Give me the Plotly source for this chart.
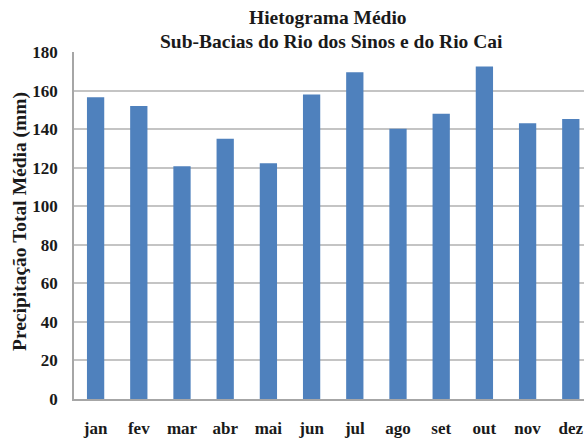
import plotly.graph_objects as go

months = ["jan", "fev", "mar", "abr", "mai", "jun", "jul", "ago", "set", "out", "nov", "dez"]
precip = [156.5, 152.0, 120.7, 135.0, 122.3, 158.0, 169.5, 140.2, 148.0, 172.5, 143.0, 145.2]
y_ticks = [0, 20, 40, 60, 80, 100, 120, 140, 160, 180]

title_line1 = "Hietograma Médio"
title_line2 = "Sub-Bacias do Rio dos Sinos e do Rio Cai"
y_title = "Precipitação Total Média (mm)"

FONT = "Liberation Serif"
W, H = 584, 439
ML, MR, MT, MB = 74, 0, 52, 40
PW = W - ML - MR
PH = H - MT - MB
CAT = 43.2  # px per category

fig = go.Figure(go.Bar(
    x=list(range(len(months))),
    y=precip,
    marker=dict(color="#4f81bd", line=dict(width=0)),
))

fig.update_layout(
    width=W, height=H,
    margin=dict(l=ML, r=MR, t=MT, b=MB),
    plot_bgcolor="white", paper_bgcolor="white",
    bargap=0.6,
    showlegend=False,
    font=dict(family=FONT, color="#1a1a1a"),
)

fig.update_xaxes(
    tickmode="array",
    tickvals=list(range(len(months))),
    ticktext=months,
    range=[-0.5, -0.5 + PW / CAT],
    showgrid=False,
    showline=True, linecolor="#a6a6a6", linewidth=1.5,
    ticks="", ticklabelstandoff=13,
    tickfont=dict(family=FONT, size=17, weight="bold", color="#1a1a1a"),
)
fig.update_yaxes(
    range=[0, 180],
    tickmode="array", tickvals=y_ticks,
    showgrid=True, gridcolor="#c4c4c4", gridwidth=1.5,
    showline=True, linecolor="#a6a6a6", linewidth=1.5,
    zeroline=False,
    ticks="", ticklabelstandoff=11,
    tickfont=dict(family=FONT, size=17, weight="bold", color="#1a1a1a"),
)

def px_x(px):
    return (px - ML) / PW

def px_y(py):
    return (H - MB - py) / PH

fig.add_annotation(text=title_line1, xref="paper", yref="paper",
                   x=px_x(328), y=px_y(17), xanchor="center", yanchor="middle",
                   showarrow=False,
                   font=dict(family=FONT, size=19.5, weight="bold", color="#1a1a1a"))
fig.add_annotation(text=title_line2, xref="paper", yref="paper",
                   x=px_x(331), y=px_y(42), xanchor="center", yanchor="middle",
                   showarrow=False,
                   font=dict(family=FONT, size=19.5, weight="bold", color="#1a1a1a"))
fig.add_annotation(text=y_title, xref="paper", yref="paper",
                   x=px_x(20), y=px_y(222), xanchor="center", yanchor="middle",
                   textangle=-90, showarrow=False,
                   font=dict(family=FONT, size=19.5, weight="bold", color="#1a1a1a"))

fig.write_html(
    "out.html",
    config={"displayModeBar": False},
    post_script="document.body.style.margin='0';document.body.style.overflow='hidden';",
)
